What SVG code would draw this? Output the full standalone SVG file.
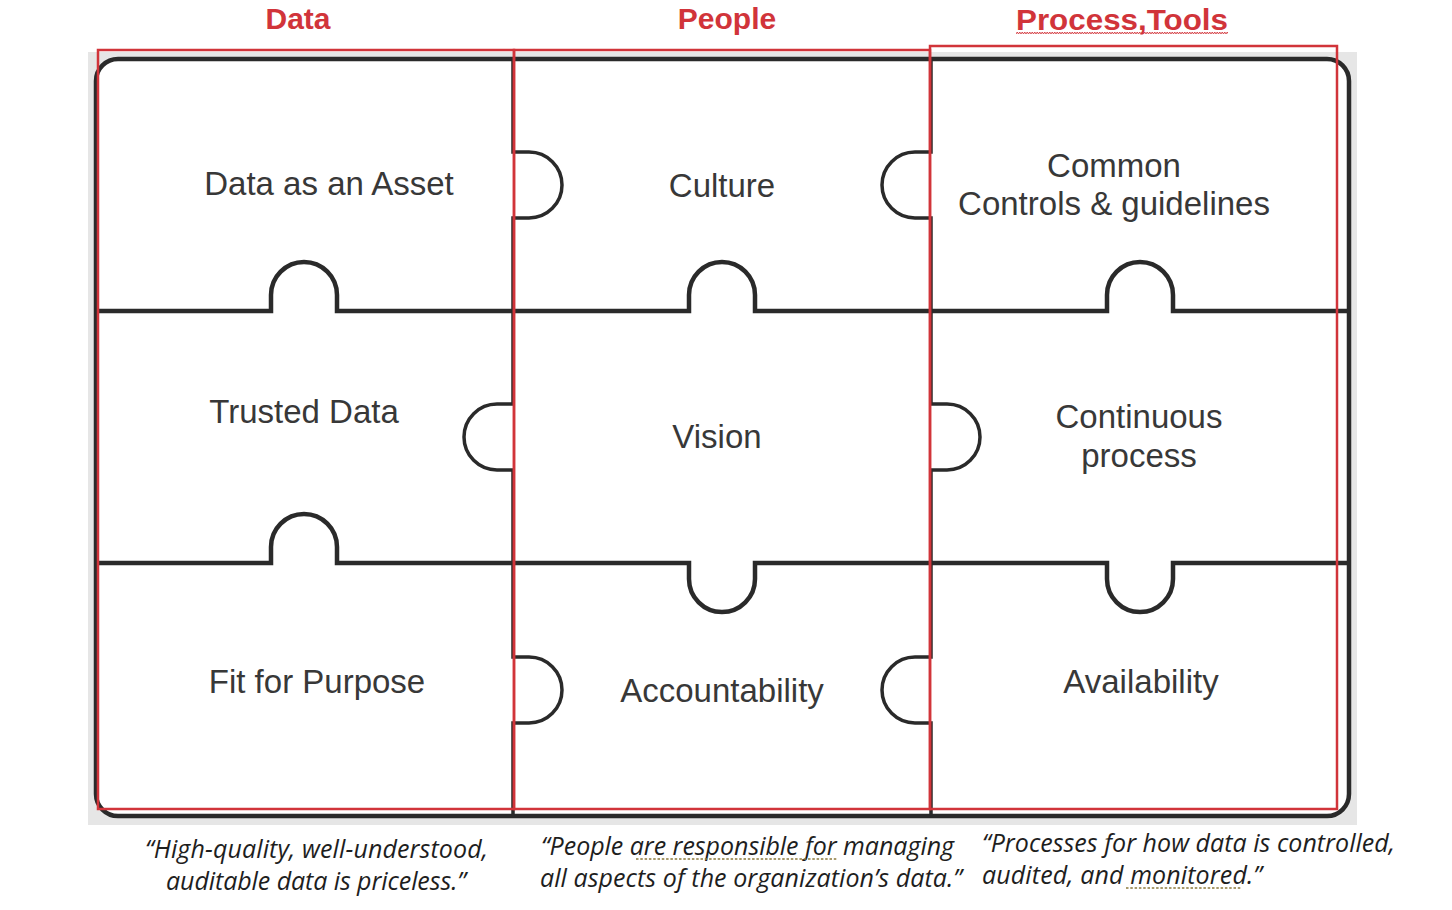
<svg xmlns="http://www.w3.org/2000/svg" width="1452" height="910" viewBox="0 0 1452 910">
<style>
.hdr{font-family:"Liberation Sans",Arial,sans-serif;font-weight:bold;font-size:30px;fill:#d1343a;text-anchor:middle}
.cell{font-family:"Liberation Sans",Arial,sans-serif;font-size:33px;fill:#383838;text-anchor:middle}
.quote{font-family:"Open Sans","Noto Sans",sans-serif;font-style:italic;font-size:25px;fill:#1e1e1e}
.line{fill:none;stroke:#2a2a2a;stroke-width:4.5;stroke-linejoin:miter}
.vline{fill:none;stroke:#2a2a2a;stroke-width:3.5}
.red{fill:none;stroke:#d1343a;stroke-width:2.5}
.dots{fill:none;stroke:#8c7a3c;stroke-width:1.6;stroke-dasharray:2.5 1.8}
</style>
<defs>
<pattern id="wave" x="1016" y="31" width="5" height="4" patternUnits="userSpaceOnUse">
<path d="M0 3 L1.25 1 L2.5 3 L3.75 1 L5 3" fill="none" stroke="#d1343a" stroke-width="0.9"/>
</pattern>
</defs>
<rect x="0" y="0" width="1452" height="910" fill="#ffffff"/>
<rect x="88" y="52" width="1269" height="773" fill="#e6e6e6"/>
<rect x="96" y="59" width="1253" height="757" rx="22" ry="22" fill="#ffffff"/>

<g id="headers">
<text class="hdr" x="298" y="29">Data</text>
<text class="hdr" x="727" y="29">People</text>
<text class="hdr" x="1122" y="30" textLength="212" lengthAdjust="spacingAndGlyphs">Process,Tools</text>
<rect x="1016" y="31" width="212" height="4" fill="url(#wave)"/>
</g>

<g id="connectors">
<rect class="line" x="96" y="59" width="1253" height="757" rx="22" ry="22"/>
<path class="line" d="M96 311 H271 V295 A33 33 0 0 1 337 295 V311 H689 V295 A33 33 0 0 1 755 295 V311 H1107 V295 A33 33 0 0 1 1173 295 V311 H1349"/>
<path class="line" d="M96 563 H271 V547 A33 33 0 0 1 337 547 V563 H689 V579 A33 33 0 0 0 755 579 V563 H1107 V579 A33 33 0 0 0 1173 579 V563 H1349"/>
<path class="vline" d="M513 59 V152 H529 A33 33 0 0 1 529 218 H513 V404 H497 A33 33 0 0 0 497 470 H513 V657 H529 A33 33 0 0 1 529 723 H513 V816"/>
<path class="vline" d="M931 59 V152 H915 A33 33 0 0 0 915 218 H931 V404 H947 A33 33 0 0 1 947 470 H931 V657 H915 A33 33 0 0 0 915 723 H931 V816"/>
</g>

<g id="columns">
<rect id="col-data" class="red" x="98" y="50" width="416" height="759"/>
<rect id="col-people" class="red" x="514" y="50" width="416" height="759"/>
<rect id="col-process" class="red" x="930" y="46" width="407" height="763"/>
</g>

<g id="node-data-asset"><text class="cell" x="329" y="195">Data as an Asset</text></g>
<g id="node-culture"><text class="cell" x="722" y="197">Culture</text></g>
<g id="node-common"><text class="cell" x="1114" y="177">Common</text><text class="cell" x="1114" y="215">Controls &amp; guidelines</text></g>
<g id="node-trusted"><text class="cell" x="304" y="423">Trusted Data</text></g>
<g id="node-vision"><text class="cell" x="717" y="448">Vision</text></g>
<g id="node-continuous"><text class="cell" x="1139" y="428">Continuous</text><text class="cell" x="1139" y="467">process</text></g>
<g id="node-fit"><text class="cell" x="317" y="693">Fit for Purpose</text></g>
<g id="node-accountability"><text class="cell" x="722" y="702">Accountability</text></g>
<g id="node-availability"><text class="cell" x="1141" y="693">Availability</text></g>

<g id="quotes">
<text class="quote" x="145" y="858" textLength="343" lengthAdjust="spacing">“High-quality, well-understood,</text>
<text class="quote" x="166" y="890" textLength="300" lengthAdjust="spacing">auditable data is priceless.”</text>
<text class="quote" x="541" y="855" textLength="413" lengthAdjust="spacing">“People are responsible for managing</text>
<text class="quote" x="540" y="887" textLength="422" lengthAdjust="spacing">all aspects of the organization’s data.”</text>
<path class="dots" d="M636 859 H838"/>
<text class="quote" x="982" y="852" textLength="413" lengthAdjust="spacing">“Processes for how data is controlled,</text>
<text class="quote" x="982" y="884" textLength="280" lengthAdjust="spacing">audited, and monitored.”</text>
<path class="dots" d="M1126 888 H1241"/>
</g>
</svg>
